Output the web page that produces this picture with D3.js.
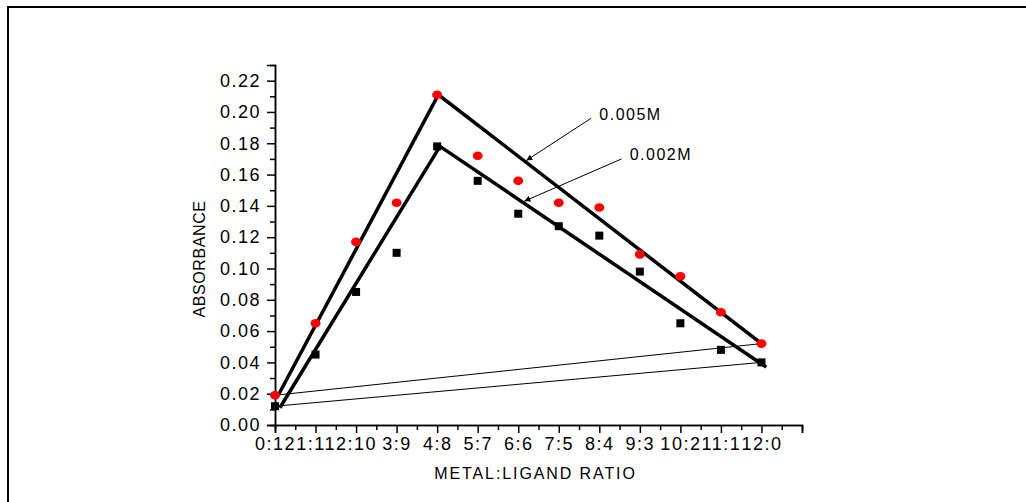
<!DOCTYPE html>
<html>
<head>
<meta charset="utf-8">
<script src="https://cdn.jsdelivr.net/npm/d3@7"></script>
<style>
  body { margin: 0; background: #fff; }
  text { font-family: "Liberation Sans", Arial, sans-serif; fill: #000; }
</style>
</head>
<body>
<script>

// categories (metal:ligand ratio)
var ratios = ["0:12", "1:11", "2:10", "3:9", "4:8", "5:7", "6:6", "7:5", "8:4", "9:3", "10:2", "11:1", "12:0"];

// absorbance values
var abs005 = [0.019, 0.065, 0.117, 0.142, 0.211, 0.172, 0.156, 0.142, 0.139, 0.109, 0.095, 0.072, 0.052];
var abs002 = [0.012, 0.045, 0.085, 0.110, 0.178, 0.156, 0.135, 0.127, 0.121, 0.098, 0.065, 0.048, 0.040];

// hand drawn fit lines (x = ratio index, y = absorbance)
var fit005 = [[0.08, 0.019], [4.03, 0.211], [12.05, 0.051]];
var fit002 = [[0.12, 0.011], [4.07, 0.178], [12.12, 0.037]];

var yTicks = [0, 0.02, 0.04, 0.06, 0.08, 0.10, 0.12, 0.14, 0.16, 0.18, 0.20, 0.22];

// annotation labels: text, text anchor point, arrow tip (data coords)
var notes = [
    { label: "0.005M", at: [8.0, 0.195], from: [7.8, 0.196], to: [6.2, 0.169] },
    { label: "0.002M", at: [8.75, 0.169], from: [8.55, 0.170], to: [6.15, 0.143] }
];

var W = 1026, H = 502;
var margin = { top: 65, right: 224, bottom: 77, left: 275 };
var width = W - margin.left - margin.right;
var height = H - margin.top - margin.bottom;

var svg = d3.select("body").append("svg")
    .attr("width", W)
    .attr("height", H);

// outer frame
svg.append("rect")
    .attr("x", 8).attr("y", 7)
    .attr("width", W).attr("height", H)
    .attr("fill", "none")
    .attr("stroke", "#000")
    .attr("stroke-width", 2);

svg.append("defs").append("marker")
    .attr("id", "arrow")
    .attr("viewBox", "0 0 10 10")
    .attr("refX", 10).attr("refY", 5)
    .attr("markerWidth", 10).attr("markerHeight", 6)
    .attr("markerUnits", "userSpaceOnUse")
    .attr("orient", "auto")
    .append("path")
    .attr("d", "M0,0 L10,5 L0,10 Z")
    .attr("fill", "#000");

var g = svg.append("g")
    .attr("transform", "translate(" + margin.left + "," + margin.top + ")");

var x = d3.scaleLinear().domain([0, 13]).range([0, width]);
var y = d3.scaleLinear().domain([0, 0.23]).range([height, 0]);

// axes
var xAxis = d3.axisBottom(x)
    .tickValues(d3.range(0, 13.01, 1))
    .tickSize(8)
    .tickPadding(4)
    .tickFormat(function (d) { return ratios[d] || ""; });

var xMinor = d3.axisBottom(x)
    .tickValues(d3.range(0.5, 13, 1))
    .tickSize(5)
    .tickFormat("");

var yAxis = d3.axisLeft(y)
    .tickValues(yTicks)
    .tickSize(8)
    .tickPadding(6)
    .tickFormat(d3.format(".2f"));

var yMinor = d3.axisLeft(y)
    .tickValues(d3.range(0.01, 0.23, 0.02))
    .tickSize(5)
    .tickFormat("");

function styleAxis(sel) {
    sel.select(".domain").attr("stroke", "#000").attr("stroke-width", 1.5);
    sel.selectAll(".tick line").attr("stroke", "#000").attr("stroke-width", 1.5);
    sel.selectAll(".tick text")
        .attr("font-size", 18)
        .style("letter-spacing", "1.5px")
        .attr("fill", "#000");
}

g.append("g").attr("transform", "translate(0," + height + ")").call(xMinor).call(styleAxis);
g.append("g").attr("transform", "translate(0," + height + ")").call(xAxis).call(styleAxis);
g.append("g").call(yMinor).call(styleAxis);
g.append("g").call(yAxis).call(styleAxis);

// axis titles
g.append("text")
    .attr("x", width / 2 - 3)
    .attr("y", height + 54)
    .attr("text-anchor", "middle")
    .attr("font-size", 16)
    .style("letter-spacing", "1.9px")
    .text("METAL:LIGAND RATIO");

g.append("text")
    .attr("transform", "translate(" + (-70) + "," + (height / 2 + 14) + ") rotate(-90)")
    .attr("text-anchor", "middle")
    .attr("font-size", 16)
    .style("letter-spacing", "0.6px")
    .text("ABSORBANCE");

// thin lines joining first and last points of each series
[abs005, abs002].forEach(function (s) {
    g.append("line")
        .attr("x1", x(0)).attr("y1", y(s[0]))
        .attr("x2", x(s.length - 1)).attr("y2", y(s[s.length - 1]))
        .attr("stroke", "#000")
        .attr("stroke-width", 1);
});

// thick fit lines
var line = d3.line()
    .x(function (d) { return x(d[0]); })
    .y(function (d) { return y(d[1]); });

[fit005, fit002].forEach(function (f) {
    g.append("path")
        .datum(f)
        .attr("d", line)
        .attr("fill", "none")
        .attr("stroke", "#000")
        .attr("stroke-width", 3.5)
        .attr("stroke-linejoin", "miter");
});

// markers
g.selectAll("rect.sq")
    .data(abs002)
    .join("rect")
    .attr("class", "sq")
    .attr("x", function (d, i) { return x(i) - 4; })
    .attr("y", function (d) { return y(d) - 4; })
    .attr("width", 8)
    .attr("height", 8)
    .attr("fill", "#000");

g.selectAll("ellipse.dot")
    .data(abs005)
    .join("ellipse")
    .attr("class", "dot")
    .attr("cx", function (d, i) { return x(i); })
    .attr("cy", function (d) { return y(d); })
    .attr("rx", 5)
    .attr("ry", 4.3)
    .attr("fill", "#ff0000");

// annotations
notes.forEach(function (n) {
    g.append("line")
        .attr("x1", x(n.from[0])).attr("y1", y(n.from[1]))
        .attr("x2", x(n.to[0])).attr("y2", y(n.to[1]))
        .attr("stroke", "#000")
        .attr("stroke-width", 1)
        .attr("marker-end", "url(#arrow)");
    g.append("text")
        .attr("x", x(n.at[0]))
        .attr("y", y(n.at[1]))
        .attr("font-size", 16)
        .style("letter-spacing", "1.5px")
        .text(n.label);
});

</script>
</body>
</html>
